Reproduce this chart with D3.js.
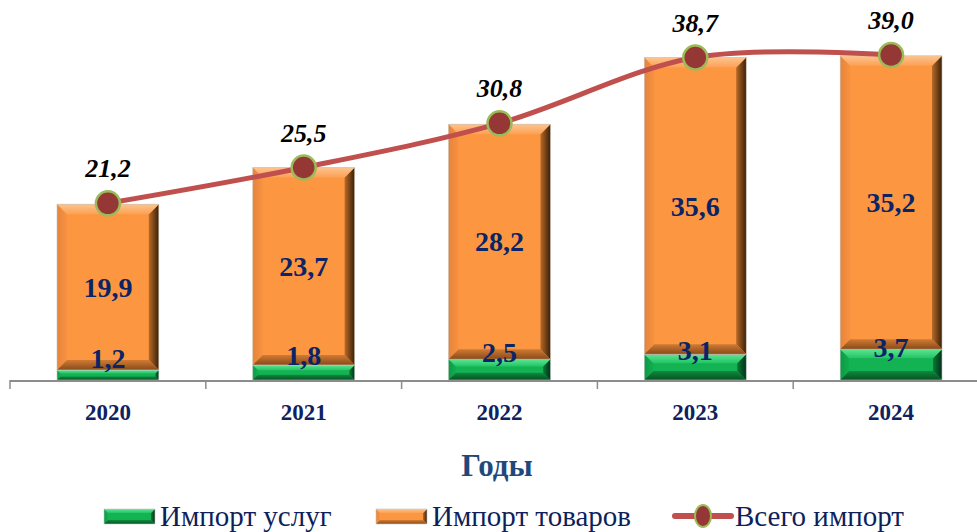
<!DOCTYPE html>
<html><head><meta charset="utf-8">
<script src="https://cdn.jsdelivr.net/npm/d3@7"></script>
<style>
html,body{margin:0;padding:0;background:#fff;overflow:hidden}
svg{display:block}
</style></head>
<body>
<svg id="chart" width="977" height="532"></svg>
<script>
const years = ["2020", "2021", "2022", "2023", "2024"];
const services = [1.2, 1.8, 2.5, 3.1, 3.7];
const goods = [19.9, 23.7, 28.2, 35.6, 35.2];
const totals = [21.2, 25.5, 30.8, 38.7, 39.0];
const seriesNames = ["Импорт услуг", "Импорт товаров", "Всего импорт"];
const axisTitle = "Годы";

const svg = d3.select("#chart");
const defs = svg.append("defs");
const fmt = v => v.toFixed(1).replace(".", ",");
const serif = "Liberation Serif, Times New Roman, serif";

const x = d3.scaleBand().domain(years).range([10, 989]).paddingInner(0.48).paddingOuter(0.24);
const y = d3.scaleLinear().domain([0, 42]).range([380, 30]);

const palettes = {
  green: {face:"#13b354", top:["#5fe595","#22c463"], bottom:["#0f8a40","#06521f"], left:["#0d9a45","#12ad51"], right:["#0a7a35","#02301a"]},
  orange: {face:"#fd9640", top:["#fdc48e","#fca055"], bottom:["#d07b35","#8a4a18"], left:["#e5843a","#f89242"], right:["#b86a28","#3a2008"]}
};
function grad(id, c, vertical) {
  const g = defs.append("linearGradient").attr("id", id)
    .attr("x1", 0).attr("y1", 0).attr("x2", vertical ? 0 : 1).attr("y2", vertical ? 1 : 0);
  g.append("stop").attr("offset", "0%").attr("stop-color", c[0]);
  g.append("stop").attr("offset", "100%").attr("stop-color", c[1]);
}
Object.entries(palettes).forEach(([k, p]) => {
  grad(k + "-top", p.top, true);
  grad(k + "-bottom", p.bottom, true);
  grad(k + "-left", p.left, false);
  grad(k + "-right", p.right, false);
});

function bevelRect(g, bx, by, w, h, pal, bsize) {
  const b = Math.min(bsize, h * 0.35, w * 0.3);
  g.append("rect").attr("x", bx).attr("y", by).attr("width", w).attr("height", h).attr("fill", palettes[pal].face);
  const poly = (pts, fill) => g.append("polygon").attr("points", pts.map(p => p.join(",")).join(" ")).attr("fill", fill);
  poly([[bx,by],[bx+b,by+b],[bx+b,by+h-b],[bx,by+h]], `url(#${pal}-left)`);
  poly([[bx+w,by],[bx+w-b,by+b],[bx+w-b,by+h-b],[bx+w,by+h]], `url(#${pal}-right)`);
  poly([[bx,by],[bx+w,by],[bx+w-b,by+b],[bx+b,by+b]], `url(#${pal}-top)`);
  poly([[bx,by+h],[bx+w,by+h],[bx+w-b,by+h-b],[bx+b,by+h-b]], `url(#${pal}-bottom)`);
  g.append("rect").attr("x", bx).attr("y", by).attr("width", w).attr("height", h)
    .attr("fill", "none").attr("stroke", "#c8c8c8").attr("stroke-width", 0.6);
}

// Bars
const bars = svg.append("g");
years.forEach((yr, i) => {
  const bx = x(yr), w = x.bandwidth();
  const g = bars.append("g");
  bevelRect(g, bx, y(services[i]), w, y(0) - y(services[i]), "green", 9);
  bevelRect(g, bx, y(services[i] + goods[i]), w, y(services[i]) - y(services[i] + goods[i]), "orange", 10);
});

// Axis
const axisG = svg.append("g");
const y0 = y(0);
axisG.append("line").attr("x1", 10).attr("x2", 989).attr("y1", y0 + 1).attr("y2", y0 + 1)
  .attr("stroke", "#8c8c8c").attr("stroke-width", 2);
const step = x.step();
const bounds = years.map(yr => x(yr) - step * x.paddingInner() / 2).concat([x(years[years.length-1]) + x.bandwidth() + step * x.paddingInner() / 2]);
axisG.selectAll(".tk").data(bounds).join("line")
  .attr("x1", d => d).attr("x2", d => d).attr("y1", y0).attr("y2", y0 + 9)
  .attr("stroke", "#8c8c8c").attr("stroke-width", 1.5);
axisG.selectAll(".yl").data(years).join("text")
  .attr("x", d => x(d) + x.bandwidth() / 2).attr("y", y0 + 40)
  .attr("text-anchor", "middle").attr("font-family", serif).attr("font-weight", "bold")
  .attr("font-size", 23).attr("fill", "#0e2160").text(d => d);

svg.append("text").attr("x", 497).attr("y", 476).attr("text-anchor", "middle")
  .attr("font-family", serif).attr("font-weight", "bold").attr("font-size", 31)
  .attr("fill", "#1f497d").text(axisTitle);

// Segment labels
const labels = svg.append("g").attr("font-family", serif).attr("font-weight", "bold")
  .attr("font-size", 28).attr("fill", "#0a2466").attr("text-anchor", "middle");
years.forEach((yr, i) => {
  const cx = x(yr) + x.bandwidth() / 2;
  const gc = (y(0) + y(services[i])) / 2 - 17;
  labels.append("text").attr("x", cx).attr("y", gc).attr("dy", "0.35em").text(fmt(services[i]));
  const oc = (y(services[i]) + y(services[i] + goods[i])) / 2;
  labels.append("text").attr("x", cx).attr("y", oc).attr("dy", "0.35em").text(fmt(goods[i]));
});

// Total line
const pts = years.map((yr, i) => [x(yr) + x.bandwidth() / 2, y(totals[i])]);
svg.append("path").attr("d", d3.line().curve(d3.curveCardinal.tension(0))(pts))
  .attr("fill", "none").attr("stroke", "#c0504d").attr("stroke-width", 5);
svg.append("g").selectAll("circle").data(pts).join("circle")
  .attr("cx", d => d[0]).attr("cy", d => d[1]).attr("r", 12)
  .attr("fill", "#953735").attr("stroke", "#9bbb59").attr("stroke-width", 2.5);
svg.append("g").selectAll("text").data(totals).join("text")
  .attr("x", (d, i) => pts[i][0]).attr("y", (d, i) => pts[i][1] - 26)
  .attr("text-anchor", "middle").attr("font-family", serif).attr("font-weight", "bold")
  .attr("font-style", "italic").attr("font-size", 26).attr("fill", "#000").text(fmt);

// Legend
const leg = svg.append("g");
const legY = 516;
const legItems = [{x: 104, type: "green"}, {x: 376, type: "orange"}, {x: 675, type: "line"}];
legItems.forEach((it, i) => {
  if (it.type === "line") {
    leg.append("line").attr("x1", it.x).attr("x2", it.x + 56).attr("y1", legY).attr("y2", legY)
      .attr("stroke", "#c0504d").attr("stroke-width", 6).attr("stroke-linecap", "round");
    leg.append("ellipse").attr("cx", it.x + 28).attr("cy", legY).attr("rx", 8).attr("ry", 11)
      .attr("fill", "#953735").attr("stroke", "#9bbb59").attr("stroke-width", 2);
  } else {
    bevelRect(leg, it.x, legY - 7, 51, 15, it.type, 4);
  }
  leg.append("text").attr("x", it.x + (it.type === "line" ? 60 : 56)).attr("y", legY + 10)
    .attr("font-family", serif).attr("font-size", 29).attr("fill", "#0e1f5c").text(seriesNames[i]);
});
</script>
</body></html>
